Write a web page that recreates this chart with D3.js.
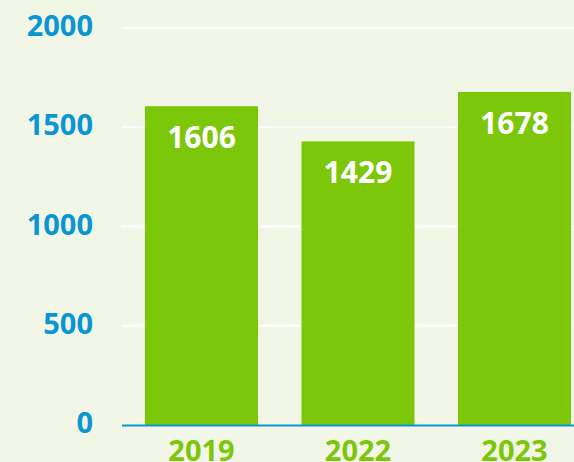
<!DOCTYPE html>
<html>
<head>
<meta charset="utf-8">
<script src="https://cdn.jsdelivr.net/npm/d3@7"></script>
<style>
  html, body { margin: 0; padding: 0; background: #f2f6e7; overflow: hidden; }
  svg { display: block; }
</style>
</head>
<body>
<svg id="chart"></svg>
<script>
// ── Data ─────────────────────────────────────────────
const years  = ['2019', '2022', '2023'];
const values = [1606, 1429, 1678];
const yTicks = [0, 500, 1000, 1500, 2000];

const W = 574, H = 462;
const BLUE  = '#0a96d2';
const GREEN = '#7dc70b';
const FONT  = '"Open Sans", "Noto Sans", sans-serif';

const svg = d3.select('#chart').attr('width', W).attr('height', H);

// ── Scales ───────────────────────────────────────────
const x = d3.scaleBand()
  .domain(years)
  .range([122, 594])
  .paddingInner(0.278)
  .paddingOuter(0.147);

const y = d3.scaleLinear()
  .domain([0, 2000])
  .range([425, 28]);

// ── Grid lines ───────────────────────────────────────
svg.append('g')
  .selectAll('line')
  .data(yTicks.filter(d => d > 0))
  .join('line')
    .attr('x1', 122).attr('x2', W)
    .attr('y1', d => y(d)).attr('y2', d => y(d))
    .attr('stroke', '#ffffff')
    .attr('stroke-width', 2);

// ── Y labels ─────────────────────────────────────────
svg.append('g')
  .selectAll('text')
  .data(yTicks)
  .join('text')
    .attr('x', 93)
    .attr('y', d => y(d))
    .attr('dy', '0.28em')
    .attr('text-anchor', 'end')
    .attr('fill', BLUE)
    .attr('font-family', FONT)
    .attr('font-weight', 700)
    .attr('font-size', 29)
    .text(d => d);

// ── Bars ─────────────────────────────────────────────
svg.append('g')
  .selectAll('rect')
  .data(values)
  .join('rect')
    .attr('x', (d, i) => x(years[i]))
    .attr('y', d => y(d))
    .attr('width', x.bandwidth())
    .attr('height', d => y(0) - y(d))
    .attr('fill', GREEN);

// value labels
svg.append('g')
  .selectAll('text')
  .data(values)
  .join('text')
    .attr('x', (d, i) => x(years[i]) + x.bandwidth() / 2)
    .attr('y', d => y(d) + 42)
    .attr('text-anchor', 'middle')
    .attr('fill', '#ffffff')
    .attr('font-family', FONT)
    .attr('font-weight', 700)
    .attr('font-size', 30)
    .text(d => d);

// ── Baseline ─────────────────────────────────────────
svg.append('line')
  .attr('x1', 122).attr('x2', W)
  .attr('y1', y(0) + 0.5).attr('y2', y(0) + 0.5)
  .attr('stroke', BLUE)
  .attr('stroke-width', 2);

// ── X labels ─────────────────────────────────────────
svg.append('g')
  .selectAll('text')
  .data(years)
  .join('text')
    .attr('x', d => x(d) + x.bandwidth() / 2)
    .attr('y', 461)
    .attr('text-anchor', 'middle')
    .attr('fill', GREEN)
    .attr('font-family', FONT)
    .attr('font-weight', 700)
    .attr('font-size', 29)
    .text(d => d);
</script>
</body>
</html>
